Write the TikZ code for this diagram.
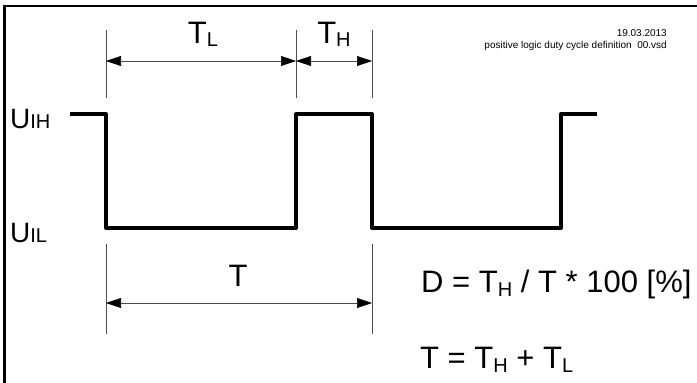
\documentclass[tikz,border=0pt]{standalone}
\usepackage{fontspec}
\setmainfont{Liberation Sans}
\usetikzlibrary{positioning,calc,arrows.meta}
\newcommand{\idx}[2][-4pt]{\raisebox{#1}{\fontsize{20}{20}\selectfont #2}}
\tikzset{sigline/.style={line width=4pt,line join=round}}
\tikzset{tick/.style={line width=0.6pt,draw=black!70}}
\tikzset{dimarrow/.style={line width=0.6pt,draw=black!70,{Triangle[length=15pt,width=10pt,color=black]}-{Triangle[length=15pt,width=10pt,color=black]}}}
\tikzset{biglbl/.style={inner sep=0pt,anchor=base,font=\fontsize{31}{31}\selectfont}}
\tikzset{ulbl/.style={inner sep=0pt,anchor=base west,font=\fontsize{28}{28}\selectfont}}
\begin{document}
\begin{tikzpicture}[x=1pt,y=-1pt]
	\useasboundingbox (0,0) rectangle (697,383);
	% frame
	\coordinate (fb) at (4.5,383);
	\coordinate (fc) at (4.5,6);
	\coordinate (fr) at (697,6);
	\draw[line width=2.5pt] (fb) -- (fc) -- (fr);

	% signal
	\coordinate (s0) at (70,114);
	\coordinate (s1) at (106,114);
	\coordinate (s2) at (106,228);
	\coordinate (s3) at (296,228);
	\coordinate (s4) at (296,114);
	\coordinate (s5) at (372,114);
	\coordinate (s6) at (372,228);
	\coordinate (s7) at (561,228);
	\coordinate (s8) at (561,114);
	\coordinate (s9) at (597,114);
	\draw[sigline] (s0) -- (s1) -- (s2) -- (s3) -- (s4) -- (s5) -- (s6) -- (s7) -- (s8) -- (s9);

	% upper dimensions
	\foreach \x/\n in {106/a,296/b,372/c}{
		\coordinate (t\n1) at (\x,30);
		\coordinate (t\n2) at (\x,98);
		\coordinate (m\n) at (\x,61);
		\draw[tick] (t\n1) -- (t\n2);
	}
	\draw[dimarrow] (ma) -- (mb);
	\draw[dimarrow] (mb) -- (mc);
	\node[biglbl] (tl) at (203,43) {T\idx[-3pt]{L}};
	\node[biglbl] (th) at (334,43) {T\idx[-3pt]{H}};

	% lower dimension
	\coordinate (ua1) at (106,244);
	\coordinate (ua2) at (106,334);
	\coordinate (uc1) at (372,244);
	\coordinate (uc2) at (372,334);
	\coordinate (ma') at (106,303);
	\coordinate (mc') at (372,303);
	\draw[tick] (ua1) -- (ua2);
	\draw[tick] (uc1) -- (uc2);
	\draw[dimarrow] (ma') -- (mc');
	\node[biglbl] (tt) at (238,286) {T};

	% levels
	\node[ulbl] (uih) at (10,128) {U\idx[0pt]{IH}};
	\node[ulbl] (uil) at (10,242) {U\idx[0pt]{IL}};

	% formulas
	\node[biglbl,anchor=base west] (duty) at (421,292) {D = T\idx{H} / T * 100 [\%]};
	\node[biglbl,anchor=base west] (sum) at (420,368) {T = T\idx{H} + T\idx{L}};

	% stamp
	\node[inner sep=0pt,anchor=north east,align=right,font=\fontsize{10}{12}\selectfont] (stamp) at (667,29)
		{19.03.2013\\positive logic duty cycle definition~ 00.vsd};
\end{tikzpicture}
\end{document}
